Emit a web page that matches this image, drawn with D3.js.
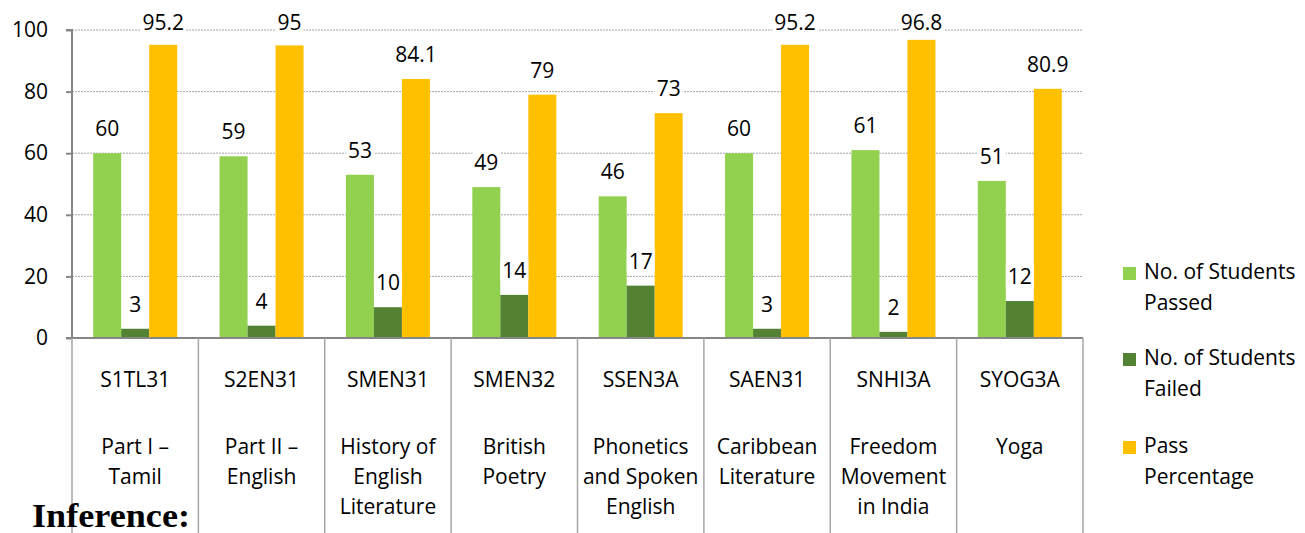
<!DOCTYPE html>
<html>
<head>
<meta charset="utf-8">
<script src="https://cdn.jsdelivr.net/npm/d3@7"></script>
<style>
  html, body { margin: 0; padding: 0; background: #fff; }
  svg { display: block; }
</style>
</head>
<body>
<svg id="chart" width="1305" height="533"></svg>
<script>
const codes = ["S1TL31", "S2EN31", "SMEN31", "SMEN32", "SSEN3A", "SAEN31", "SNHI3A", "SYOG3A"];
const names = [
  ["Part I \u2013", "Tamil"],
  ["Part II \u2013", "English"],
  ["History of", "English", "Literature"],
  ["British", "Poetry"],
  ["Phonetics", "and Spoken", "English"],
  ["Caribbean", "Literature"],
  ["Freedom", "Movement", "in India"],
  ["Yoga"]
];
const passed = [60, 59, 53, 49, 46, 60, 61, 51];
const failed = [3, 4, 10, 14, 17, 3, 2, 12];
const passPct = [95.2, 95, 84.1, 79, 73, 95.2, 96.8, 80.9];
const seriesNames = [["No. of Students", "Passed"], ["No. of Students", "Failed"], ["Pass", "Percentage"]];
const colors = ["#92D050", "#548235", "#FFC000"];
const yTicks = [0, 20, 40, 60, 80, 100];

const font = "'Open Sans', 'DejaVu Sans', sans-serif";
const fs = 21;
const svg = d3.select("#chart");
const pLeft = 72, pRight = 1083, pTop = 30, pBottom = 338;

const x = d3.scaleBand().domain(codes).range([pLeft, pRight]).paddingInner(0).paddingOuter(0);
const y = d3.scaleLinear().domain([0, 100]).range([pBottom, pTop]);
const bw = x.bandwidth();
const barW = 28;
const xs = d3.scaleBand().domain([0, 1, 2]).range([0, barW * 3]);

// gridlines
svg.append("g").selectAll("line").data(yTicks.filter(d => d > 0)).join("line")
  .attr("x1", pLeft).attr("x2", pRight)
  .attr("y1", d => y(d)).attr("y2", d => y(d))
  .attr("stroke", "#A6A6A6").attr("stroke-width", 1).attr("stroke-dasharray", "2,1");

// y axis
const yAxis = d3.axisLeft(y).tickValues(yTicks).tickSize(6).tickPadding(18).tickFormat(d3.format("d"));
const ya = svg.append("g").attr("transform", `translate(${pLeft},0)`).call(yAxis);
ya.select(".domain").attr("stroke", "#868686").attr("stroke-width", 2).attr("d", `M-6,${pTop}H0V${pBottom}`);
ya.selectAll(".tick line").attr("stroke", "#868686").attr("stroke-width", 2);
ya.selectAll(".tick text").attr("font-family", font).attr("font-size", fs).attr("fill", "#000");

// bars
const data = codes.map((c, i) => ({ c, vals: [passed[i], failed[i], passPct[i]] }));
const groups = svg.append("g").selectAll("g").data(data).join("g")
  .attr("transform", d => `translate(${x(d.c) + (bw - barW * 3) / 2},0)`);
groups.selectAll("rect.bar").data(d => d.vals).join("rect").attr("class", "bar")
  .attr("x", (v, j) => xs(j)).attr("width", barW)
  .attr("y", v => y(v)).attr("height", v => pBottom - y(v))
  .attr("fill", (v, j) => colors[j]);
const lbl = groups.selectAll("g.lbl").data(d => d.vals).join("g").attr("class", "lbl");
const lblText = lbl.append("text")
  .attr("x", (v, j) => xs(j) + barW / 2)
  .attr("y", v => Math.max(y(v) - 17, 30))
  .attr("text-anchor", "middle")
  .attr("font-family", font).attr("font-size", fs).attr("fill", "#000")
  .text(v => v);
lbl.each(function () {
  const g = d3.select(this);
  const bb = g.select("text").node().getBBox();
  g.insert("rect", "text").attr("x", bb.x - 2).attr("y", bb.y + 3).attr("width", bb.width + 4)
    .attr("height", bb.height - 6).attr("fill", "#fff");
});

// x axis line
svg.append("line").attr("x1", pLeft - 6).attr("x2", pRight).attr("y1", pBottom).attr("y2", pBottom)
  .attr("stroke", "#868686").attr("stroke-width", 2);

// category separators
const bounds = codes.map(c => x(c)).concat([pRight]);
svg.append("g").selectAll("line").data(bounds).join("line")
  .attr("x1", d => d).attr("x2", d => d).attr("y1", pBottom).attr("y2", 533)
  .attr("stroke", "#A6A6A6").attr("stroke-width", 1.5);

// category labels
const cat = svg.append("g").selectAll("g").data(codes).join("g")
  .attr("transform", c => `translate(${x(c) + bw / 2},0)`);
cat.append("text").attr("y", 387).attr("text-anchor", "middle")
  .attr("font-family", font).attr("font-size", fs).attr("fill", "#000").text(c => c);
cat.each(function (c, i) {
  d3.select(this).selectAll("text.nm").data(names[i]).join("text").attr("class", "nm")
    .attr("y", (t, k) => 454 + k * 30).attr("text-anchor", "middle")
    .attr("font-family", font).attr("font-size", fs).attr("fill", "#000").text(t => t);
});

// legend
const lg = svg.append("g").selectAll("g").data(seriesNames).join("g")
  .attr("transform", (d, i) => `translate(1123,${[272, 358, 446][i]})`);
lg.append("rect").attr("x", 0).attr("y", -5).attr("width", 13).attr("height", 13)
  .attr("fill", (d, i) => colors[i]);
lg.selectAll("text").data(d => d).join("text")
  .attr("x", 21).attr("y", (t, k) => 7 + k * 31)
  .attr("font-family", font).attr("font-size", fs).attr("fill", "#000").text(t => t);

// overlaid page text
svg.append("text").attr("x", 32).attr("y", 527)
  .attr("font-family", "'Liberation Serif', 'DejaVu Serif', serif").attr("font-weight", "bold")
  .attr("font-size", 34).attr("fill", "#000").attr("textLength", 158).attr("lengthAdjust", "spacingAndGlyphs")
  .text("Inference:");
</script>
</body>
</html>
